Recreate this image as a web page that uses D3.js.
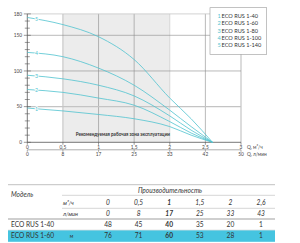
<!DOCTYPE html>
<html>
<head>
<meta charset="utf-8">
<script src="https://cdn.jsdelivr.net/npm/d3@7"></script>
<style>
  body { margin: 0; background: #fff; }
  svg { display: block; font-family: Lato, "Open Sans", sans-serif; }
</style>
</head>
<body>
<div id="chart"></div>
<script>
// flow (m3/h) points where the curves were read
const flowPts = [0, 0.5, 1, 1.5, 2, 2.3, 2.6];
const headCurve1 = [48, 44, 39, 33, 22, 10, 0];
const headCurve2 = [74, 70, 62, 52, 29, 13, 0];
const headCurve3 = [94, 89, 80, 65, 37, 17, 0];
const headCurve4 = [126, 120, 104, 80, 45, 22, 0];
const headCurve5 = [175, 165, 148, 116, 62, 33, 0];
const curveNames = ["1", "2", "3", "4", "5"];
const legendNames = ["ECO RUS 1-40", "ECO RUS 1-60", "ECO RUS 1-80", "ECO RUS 1-100", "ECO RUS 1-140"];

const yTicks = [0, 50, 100, 150, 180];
const xTicks = [0, 0.5, 1, 1.5, 2, 2.5, 3];
const xTickLabels = ["0", "0,5", "1", "1,5", "2", "2,5", "3"];
const lminTickLabels = ["0", "8", "17", "25", "33", "42", "50"];
const zone = [0.5, 2];
const zoneText = "Рекомендуемая рабочая зона эксплуатации";

// table
const tableTitle = "Производительность";
const tableM3 = ["0", "0,5", "1", "1,5", "2", "2,6"];
const tableLmin = ["0", "8", "17", "25", "33", "43"];
const tableModels = ["ECO RUS 1-40", "ECO RUS 1-60"];
const tableRow1 = ["48", "45", "40", "35", "20", "1"];
const tableRow2 = ["76", "71", "60", "53", "28", "1"];
const boldCol = 2;

const teal = "#4fc3cf";
const W = 300, H = 243;
const svg = d3.select("#chart").append("svg").attr("width", W).attr("height", H);

let x = d3.scaleLinear().domain([0, 3]).range([27.3, 241]);
let y = d3.scaleLinear().domain([0, 180]).range([142.3, 13.9]);

// zone
svg.append("rect")
    .attr("x", x(zone[0])).attr("y", y(180))
    .attr("width", x(zone[1]) - x(zone[0])).attr("height", y(0) - y(180))
    .attr("fill", "#ececec");
svg.append("line")
    .attr("x1", x(zone[0])).attr("x2", x(zone[0]))
    .attr("y1", y(180)).attr("y2", y(0))
    .attr("stroke", "#c8c8c8").attr("stroke-width", 1.2);

// grid
[1, 1.5, 2.5].forEach(v => {
    svg.append("line").attr("x1", x(v)).attr("x2", x(v)).attr("y1", y(180)).attr("y2", y(0))
        .attr("stroke", "#8c8c8c").attr("stroke-width", 0.6);
});
svg.append("line").attr("x1", x(2)).attr("x2", x(2)).attr("y1", y(180)).attr("y2", y(0))
    .attr("stroke", "#d0d0d0").attr("stroke-width", 0.8);
svg.append("line").attr("x1", x(3)).attr("x2", x(3)).attr("y1", y(180)).attr("y2", y(0))
    .attr("stroke", "#8c8c8c").attr("stroke-width", 0.6);
[100, 150].forEach(v => {
    svg.append("line").attr("x1", x(0)).attr("x2", x(3)).attr("y1", y(v)).attr("y2", y(v))
        .attr("stroke", "#8c8c8c").attr("stroke-width", 0.6);
});
svg.append("line").attr("x1", x(0)).attr("x2", x(3)).attr("y1", y(50)).attr("y2", y(50))
    .attr("stroke", "#c4c4c4").attr("stroke-width", 1.2);
svg.append("line").attr("x1", x(0)).attr("x2", x(3)).attr("y1", y(180)).attr("y2", y(180))
    .attr("stroke", "#c8c8c8").attr("stroke-width", 0.8);

svg.append("text")
    .attr("x", x(0.68)).attr("y", 136)
    .attr("font-size", 4.6).attr("font-weight", "bold").attr("fill", "#333")
    .text(zoneText);

// y axis
svg.append("line").attr("x1", x(0)).attr("x2", x(0)).attr("y1", y(180)).attr("y2", y(0))
    .attr("stroke", "#555").attr("stroke-width", 0.8);
svg.selectAll(".ytick").data(d3.range(0, 181, 10)).enter().append("line")
    .attr("x1", d => yTicks.includes(d) ? x(0) - 3.5 : x(0) - 2.5)
    .attr("x2", d => yTicks.includes(d) ? x(0) + 3.5 : x(0) + 2.5)
    .attr("y1", d => y(d)).attr("y2", d => y(d))
    .attr("stroke", "#555").attr("stroke-width", 0.6);
svg.selectAll(".ylab").data(yTicks).enter().append("text")
    .attr("x", 22).attr("y", d => y(d) + 1.7)
    .attr("text-anchor", "end").attr("font-size", 4.8).attr("fill", "#444")
    .text(d => d);

// x axes
svg.append("line").attr("x1", x(0)).attr("x2", x(3)).attr("y1", y(0)).attr("y2", y(0))
    .attr("stroke", "#555").attr("stroke-width", 0.8);
svg.selectAll(".xtick").data(xTicks).enter().append("line")
    .attr("x1", d => x(d)).attr("x2", d => x(d)).attr("y1", y(0)).attr("y2", y(0) + 2.5)
    .attr("stroke", "#555").attr("stroke-width", 0.6);
svg.selectAll(".xlab").data(xTicks).enter().append("text")
    .attr("x", d => x(d)).attr("y", 148.5)
    .attr("text-anchor", "middle").attr("font-size", 4.8).attr("fill", "#444")
    .text((d, i) => xTickLabels[i]);
svg.append("line").attr("x1", x(0)).attr("x2", x(3)).attr("y1", 149.8).attr("y2", 149.8)
    .attr("stroke", "#777").attr("stroke-width", 0.6);
svg.selectAll(".xtick2").data(xTicks).enter().append("line")
    .attr("x1", d => x(d)).attr("x2", d => x(d)).attr("y1", 149.8).attr("y2", 151.8)
    .attr("stroke", "#777").attr("stroke-width", 0.6);
svg.selectAll(".xlab2").data(xTicks).enter().append("text")
    .attr("x", d => x(d)).attr("y", 156)
    .attr("text-anchor", "middle").attr("font-size", 4.8).attr("fill", "#444")
    .text((d, i) => lminTickLabels[i]);
svg.append("text").attr("x", 247).attr("y", 148.5).attr("font-size", 4.8).attr("fill", "#444")
    .text("Q, м³/ч");
svg.append("text").attr("x", 247).attr("y", 156).attr("font-size", 4.8).attr("fill", "#444")
    .text("Q, л/мин");

// curves
const curves = [headCurve1, headCurve2, headCurve3, headCurve4, headCurve5];
const line = d3.line()
    .x((d, i) => x(flowPts[i]))
    .y(d => y(d))
    .curve(d3.curveMonotoneX);
curves.forEach((c, k) => {
    svg.append("path").attr("d", line(c))
        .attr("fill", "none").attr("stroke", teal).attr("stroke-width", 0.8);
    let lx = 0.13;
    let ly = c[0] + (c[1] - c[0]) * lx / 0.5;
    svg.append("text")
        .attr("x", x(lx)).attr("y", y(ly) + 1.8)
        .attr("text-anchor", "middle").attr("font-size", 5.2).attr("fill", teal)
        .attr("stroke", "#fff").attr("stroke-width", 1.5).attr("paint-order", "stroke")
        .text(curveNames[k]);
});

// legend
let lg = svg.append("g");
lg.append("rect").attr("x", 210).attr("y", 7.7).attr("width", 56.7).attr("height", 46.6)
    .attr("fill", "#fff").attr("stroke", "#9a9a9a").attr("stroke-width", 0.6);
legendNames.forEach((n, i) => {
    lg.append("text").attr("x", 217.5).attr("y", 18 + i * 7.3)
        .attr("font-size", 5.6).attr("fill", teal).text(curveNames[i]);
    lg.append("text").attr("x", 221.5).attr("y", 18 + i * 7.3)
        .attr("font-size", 5.6).attr("fill", "#333").text(n);
});

// table
let tb = svg.append("g").attr("font-size", 6.6).attr("fill", "#333");
let col = d3.scalePoint().domain(d3.range(tableM3.length)).range([108, 261]);
const tL = 8, tR = 275;
tb.append("rect").attr("x", tL).attr("y", 230.2).attr("width", tR - tL).attr("height", 11.6)
    .attr("fill", "#45c4e0");
tb.append("line").attr("x1", tL).attr("x2", tR).attr("y1", 184.7).attr("y2", 184.7)
    .attr("stroke", "#999").attr("stroke-width", 0.6);
[195.3, 208.3].forEach(v => {
    tb.append("line").attr("x1", 62).attr("x2", tR).attr("y1", v).attr("y2", v)
        .attr("stroke", "#aaa").attr("stroke-width", 0.5);
});
tb.append("line").attr("x1", tL).attr("x2", tR).attr("y1", 219).attr("y2", 219)
    .attr("stroke", "#777").attr("stroke-width", 0.7);
tb.append("line").attr("x1", tL).attr("x2", tR).attr("y1", 230).attr("y2", 230)
    .attr("stroke", "#ccc").attr("stroke-width", 0.5);

tb.append("text").attr("x", 170).attr("y", 193).attr("text-anchor", "middle")
    .attr("font-style", "italic").text(tableTitle);
tb.append("text").attr("x", 11).attr("y", 197).attr("font-style", "italic").text("Модель");
tb.append("text").attr("x", 63).attr("y", 204.5).attr("font-style", "italic").attr("font-size", 5.6).text("м³/ч");
tb.append("text").attr("x", 63).attr("y", 215.5).attr("font-style", "italic").attr("font-size", 5.6).text("л/мин");

function rowText(vals, yy, italic) {
    vals.forEach((v, i) => {
        tb.append("text").attr("x", col(i)).attr("y", yy).attr("text-anchor", "middle")
            .attr("font-style", italic ? "italic" : "normal")
            .attr("font-weight", i === boldCol ? "bold" : "normal")
            .text(v);
    });
}
rowText(tableM3, 204.8, true);
rowText(tableLmin, 215.8, true);
rowText(tableRow1, 226.6, false);
rowText(tableRow2, 238.4, false);
tb.append("text").attr("x", 11).attr("y", 226.6).text(tableModels[0]);
tb.append("text").attr("x", 11).attr("y", 238.4).text(tableModels[1]);
tb.append("text").attr("x", 71.5).attr("y", 238.4).attr("font-size", 5).attr("text-anchor", "middle").text("м");
</script>
</body>
</html>
